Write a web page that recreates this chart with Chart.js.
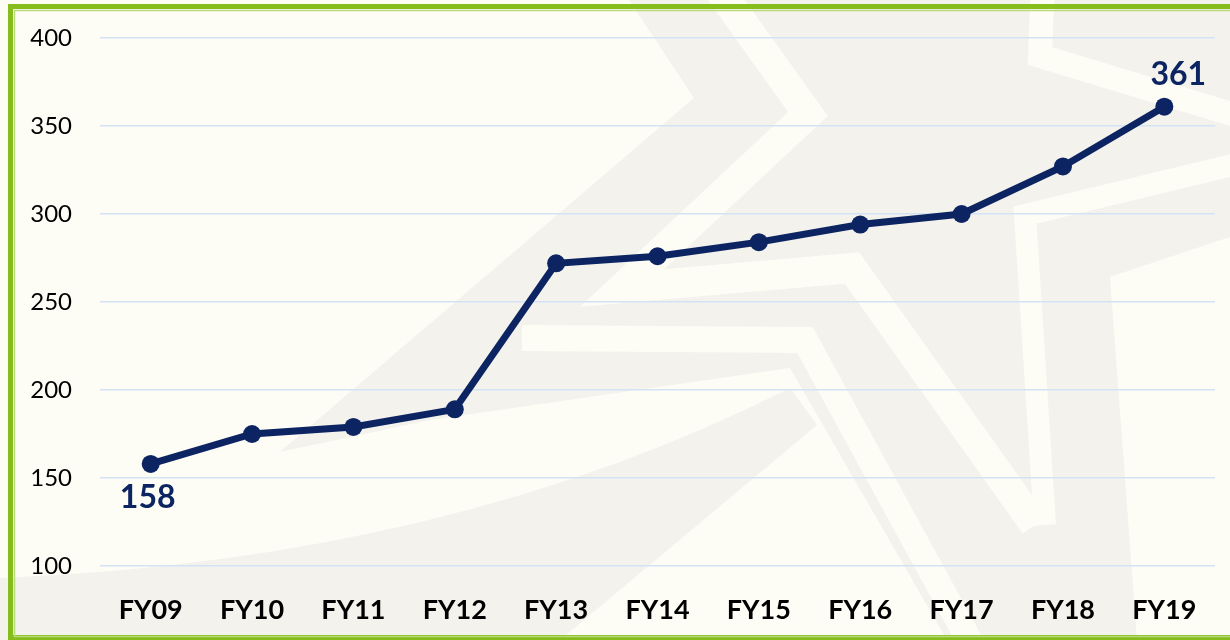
<!DOCTYPE html>
<html>
<head>
<meta charset="utf-8">
<script src="https://cdn.jsdelivr.net/npm/chart.js@4"></script>
<style>
  html, body { margin: 0; padding: 0; background: #fdfdf5; }
  #wrap { width: 1230px; height: 640px; }
</style>
</head>
<body>
<div id="wrap"><canvas id="myChart" width="1230" height="640"></canvas></div>
<script>
const categorias = ['FY09', 'FY10', 'FY11', 'FY12', 'FY13', 'FY14', 'FY15', 'FY16', 'FY17', 'FY18', 'FY19'];
const valores = [158, 175, 179, 189, 272, 276, 284, 294, 300, 327, 361];
const etiquetas = [0, 10]; // indices that carry a value label
const yMin = 100;
const yMax = 400;
const yPaso = 50;

const azul = '#0c2461';
const crema = '#fdfdf5';
const gris = '#f3f2ec';

// background, faint star watermark and green frame
const fondo = {
  id: 'fondo',
  beforeDraw(chart) {
    const ctx = chart.ctx;
    ctx.save();
    ctx.fillStyle = crema;
    ctx.fillRect(0, 0, chart.width, chart.height);

    ctx.fillStyle = gris;
    // main body of the star
    ctx.beginPath();
    ctx.moveTo(629, 0);
    ctx.lineTo(1230, 0);
    ctx.lineTo(1230, 237);
    ctx.lineTo(1110, 277);
    ctx.lineTo(1137, 640);
    ctx.lineTo(947, 640);
    ctx.lineTo(790, 368);
    ctx.lineTo(430, 420);
    ctx.lineTo(280, 452);
    ctx.lineTo(694, 98);
    ctx.closePath();
    ctx.fill();
    // lower sweep
    ctx.beginPath();
    ctx.moveTo(0, 578);
    ctx.quadraticCurveTo(450, 560, 790, 388);
    ctx.lineTo(817, 425);
    ctx.lineTo(560, 640);
    ctx.lineTo(0, 640);
    ctx.closePath();
    ctx.fill();

    ctx.strokeStyle = crema;
    ctx.lineJoin = 'miter';
    const trazo = (ancho, pts) => {
      ctx.lineWidth = ancho;
      ctx.beginPath();
      ctx.moveTo(pts[0][0], pts[0][1]);
      for (let i = 1; i < pts.length; i++) ctx.lineTo(pts[i][0], pts[i][1]);
      ctx.stroke();
    };
    trazo(30, [[712, -20], [808, 114], [622, 288], [852, 268], [1035, 525]]);
    trazo(24, [[1043, -20], [1040, 56], [1245, 118]]);
    trazo(22, [[1245, 162], [1025, 215], [1045, 525]]);
    trazo(26, [[522, 338], [805, 340], [980, 660]]);

    // green frame
    ctx.strokeStyle = '#84bd1c';
    ctx.lineWidth = 5;
    ctx.strokeRect(10.5, 6.5, 1260, 631);
    ctx.strokeStyle = '#b9db7c';
    ctx.lineWidth = 1.5;
    ctx.strokeRect(14.5, 10.5, 1260, 626);
    ctx.restore();
  }
};

// value labels on first and last point
const rotulos = {
  id: 'rotulos',
  afterDatasetsDraw(chart) {
    const ctx = chart.ctx;
    const puntos = chart.getDatasetMeta(0).data;
    ctx.save();
    ctx.fillStyle = azul;
    ctx.font = 'bold 32px Lato';
    ctx.textAlign = 'center';
    ctx.textBaseline = 'middle';
    etiquetas.forEach(i => {
      const p = puntos[i];
      if (i === 0) {
        ctx.fillText(valores[i], p.x - 3, p.y + 34);
      } else {
        ctx.fillText(valores[i], p.x + 14, p.y - 32);
      }
    });
    ctx.restore();
  }
};

const ctx = document.getElementById('myChart');

new Chart(ctx, {
  type: 'line',
  data: {
    labels: categorias,
    datasets: [{
      data: valores,
      borderColor: azul,
      backgroundColor: azul,
      borderWidth: 7,
      pointRadius: 9,
      pointHoverRadius: 9,
      pointBackgroundColor: azul,
      pointBorderWidth: 0,
      fill: false,
      tension: 0
    }]
  },
  options: {
    responsive: false,
    devicePixelRatio: 1,
    animation: false,
    layout: { padding: { top: 38, right: 15, left: 0, bottom: 0 } },
    plugins: {
      legend: { display: false },
      tooltip: { enabled: false }
    },
    scales: {
      x: {
        offset: true,
        grid: { display: false, drawTicks: false },
        border: { display: false },
        ticks: {
          color: '#000',
          padding: 28,
          font: { family: 'Lato', size: 27, weight: 'bold' }
        },
        afterFit(scale) { scale.height = 74; }
      },
      y: {
        min: yMin,
        max: yMax,
        grid: { color: '#d3e2f5', lineWidth: 1.5, drawTicks: false },
        border: { display: false },
        ticks: {
          stepSize: yPaso,
          color: '#000',
          padding: 28,
          font: { family: 'Lato', size: 24 }
        },
        afterFit(scale) {
          scale.width = 100;
          scale.paddingTop = 0;
          scale.paddingBottom = 0;
        }
      }
    }
  },
  plugins: [fondo, rotulos]
});
</script>
</body>
</html>
